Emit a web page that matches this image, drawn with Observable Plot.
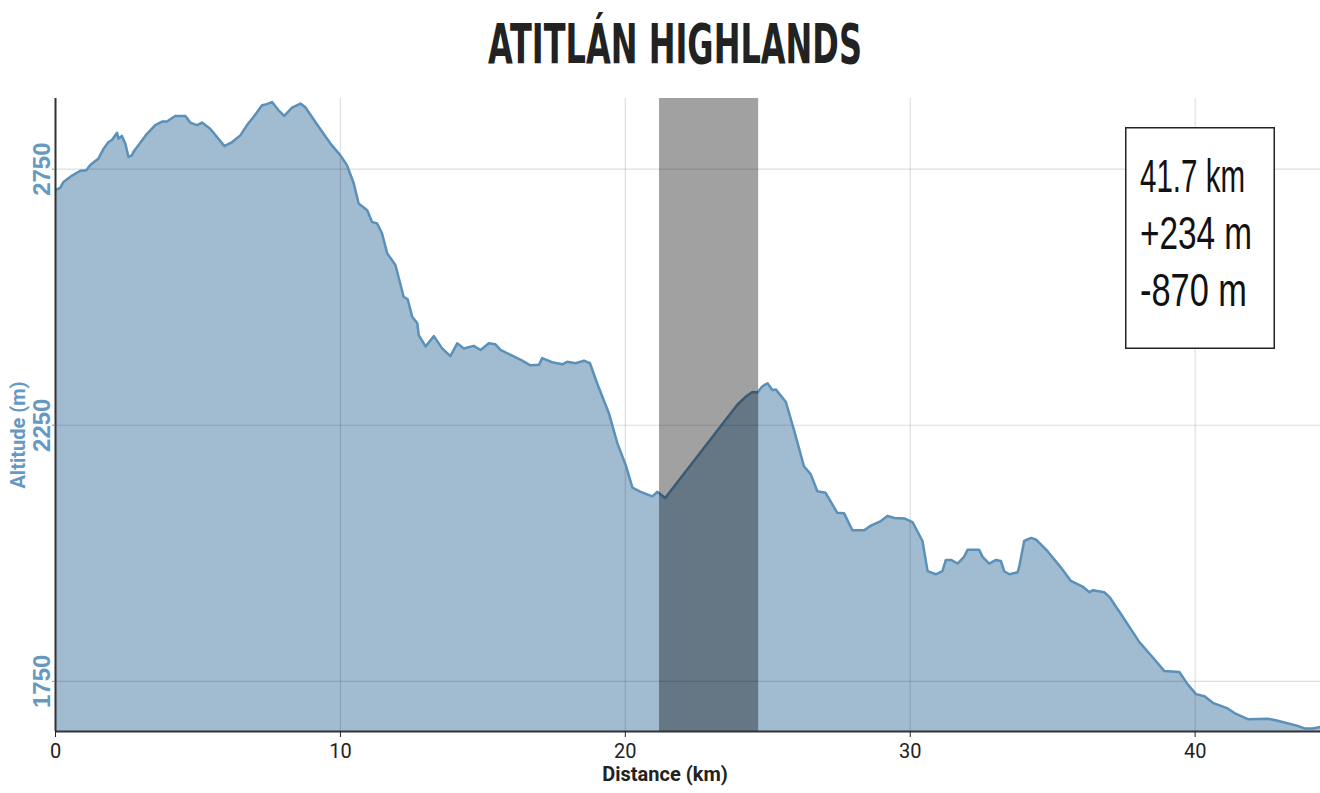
<!DOCTYPE html>
<html>
<head>
<meta charset="utf-8">
<script src="https://cdn.jsdelivr.net/npm/d3@7"></script>
<script src="https://cdn.jsdelivr.net/npm/@observablehq/plot@0.6"></script>
<style>
  html, body { margin: 0; padding: 0; background: #fff; }
  #wrap { position: relative; width: 1320px; height: 793px; overflow: hidden; }
  #title { display: block; }
  #stats { position: absolute; left: 1125px; top: 127px; overflow: visible; }
</style>
</head>
<body>
<div id="wrap">
  <svg id="title" width="1320" height="90">
    <text x="675" y="63" text-anchor="middle" textLength="374" lengthAdjust="spacingAndGlyphs"
      style="font-family:'Liberation Sans Narrow','DejaVu Sans Condensed',sans-serif;font-weight:bold;font-size:55px;fill:#222">ATITLÁN HIGHLANDS</text>
  </svg>
  <div id="chart"></div>
  <svg id="stats" width="195" height="222"></svg>
</div>
<script>
const titleText = "ATITLÁN HIGHLANDS";
const distanceKm = [0,0.17,0.28,0.57,0.87,1.08,1.22,1.51,1.69,1.86,1.98,2.16,2.21,2.33,2.45,2.56,2.68,2.74,3.21,3.50,3.74,3.91,4.20,4.56,4.73,4.97,5.14,5.43,5.93,6.20,6.49,6.72,6.95,7.25,7.42,7.60,7.83,8.03,8.30,8.60,8.77,9.12,9.65,10.0,10.23,10.47,10.64,10.94,11.11,11.29,11.46,11.64,11.93,12.22,12.36,12.52,12.70,12.75,12.99,13.28,13.57,13.86,14.10,14.33,14.68,14.92,15.21,15.44,15.62,16.03,16.38,16.67,16.97,17.08,17.43,17.79,17.96,18.25,18.55,18.76,19.01,19.42,19.72,20.01,20.25,20.54,20.95,21.12,21.40,23.93,24.23,24.46,24.64,24.81,24.99,25.16,25.28,25.63,25.92,26.27,26.51,26.74,27.03,27.44,27.68,27.97,28.38,28.62,28.97,29.20,29.44,29.79,30.08,30.43,30.61,30.90,31.13,31.25,31.43,31.66,31.89,32.01,32.42,32.54,32.77,33.01,33.18,33.30,33.48,33.77,33.83,34.00,34.24,34.41,34.82,35.29,35.64,36.05,36.29,36.41,36.81,36.99,37.40,38.05,38.57,38.92,39.45,39.74,40.03,40.33,40.62,41.14,41.38,41.85,42.55,42.90,43.60,43.84,44.13,44.31,44.4];
const altitudeM = [2709,2714,2725,2737,2747,2748,2758,2771,2790,2803,2807,2821,2810,2815,2800,2774,2777,2784,2819,2836,2843,2843,2854,2854,2841,2836,2841,2829,2795,2803,2816,2836,2852,2875,2877,2881,2865,2854,2870,2878,2871,2842,2800,2777,2758,2722,2683,2670,2647,2644,2625,2586,2563,2501,2496,2462,2449,2426,2404,2424,2400,2385,2410,2400,2405,2397,2410,2408,2397,2386,2376,2367,2368,2381,2373,2369,2374,2371,2376,2371,2332,2274,2215,2173,2128,2120,2111,2120,2108,2290,2306,2315,2314,2326,2332,2319,2320,2296,2241,2170,2154,2121,2118,2079,2078,2045,2045,2054,2063,2073,2069,2068,2061,2024,1965,1959,1965,1987,1987,1980,1993,2007,2007,1993,1980,1987,1985,1965,1959,1963,1975,2024,2030,2027,2004,1972,1946,1935,1924,1928,1924,1915,1881,1826,1793,1770,1768,1744,1725,1721,1708,1697,1688,1676,1677,1673,1663,1658,1658,1660,1661];
const xDomain = [0, 44.4];
const yDomain = [1652, 2888];
const xTicks = [0, 10, 20, 30, 40];
const yTicks = [1750, 2250, 2750];
const bandStartKm = [21.2];
const bandEndKm = [24.68];
const statsLines = ["41.7 km", "+234 m", "-870 m"];
const xLabel = "Distance (km)";
const yLabel = "Altitude (m)";

const profile = distanceKm.map((d, i) => ({d, a: altitudeM[i]}));
const band = bandStartKm.map((s, i) => ({s, e: bandEndKm[i]}));

const blue = "#6699c2";
const chart = Plot.plot({
  width: 1320,
  height: 703,
  marginTop: 8,
  marginBottom: 62,
  marginLeft: 55,
  marginRight: 0,
  style: {background: "transparent", fontFamily: "Roboto, sans-serif"},
  x: {domain: xDomain},
  y: {domain: yDomain},
  marks: [
    Plot.areaY(profile, {x: "d", y: "a", fill: "#a1bbd1", clip: true}),
    Plot.gridX(xTicks, {stroke: "#000", strokeOpacity: 0.13, strokeWidth: 1.2}),
    Plot.gridY(yTicks, {stroke: "#000", strokeOpacity: 0.13, strokeWidth: 1.2}),
    Plot.lineY(profile, {x: "d", y: "a", stroke: "#5b90b9", strokeWidth: 2.5, clip: true}),
    Plot.rect(band, {x1: "s", x2: "e", fill: "#000", fillOpacity: 0.37}),
    Plot.ruleX([xDomain[0]], {stroke: "#333", strokeWidth: 2}),
    Plot.ruleY([yDomain[0]], {stroke: "#333", strokeWidth: 2}),
    Plot.axisX(xTicks, {tickSize: 6, tickPadding: 6, fontSize: 20, color: "#222", label: null}),
    Plot.axisY(yTicks, {tickSize: 3, tickPadding: 3, tickRotate: -90, tickFormat: "d", fontSize: 24, fontWeight: "bold",
      fontFamily: "'Liberation Sans Narrow', sans-serif", color: blue, label: null}),
    Plot.text([xLabel], {frameAnchor: "bottom", text: d => d, dy: 49, dx: -23, fontSize: 20, fontWeight: "bold", fill: "#222"}),
    Plot.text([yLabel], {frameAnchor: "left", text: d => d, rotate: -90, textAnchor: "middle", dx: -37, dy: 20, fontSize: 20, fontWeight: "bold", fill: blue})
  ]
});
document.getElementById("chart").appendChild(chart);

// stats box
const stats = d3.select("#stats");
stats.append("rect").attr("x", 0.75).attr("y", 0.75).attr("width", 148.5).attr("height", 220.5)
  .attr("fill", "#fff").attr("stroke", "#222").attr("stroke-width", 1.5);
const statWidths = [105, 112, 107];
stats.selectAll("text.s").data(statsLines).join("text")
  .attr("x", 15).attr("y", (d, i) => 65 + i * 57)
  .attr("textLength", (d, i) => statWidths[i]).attr("lengthAdjust", "spacingAndGlyphs")
  .style("font-family", "'Liberation Sans Narrow', sans-serif").style("font-weight", "normal")
  .style("font-size", "47px").style("fill", "#111")
  .text(d => d);
</script>
</body>
</html>
